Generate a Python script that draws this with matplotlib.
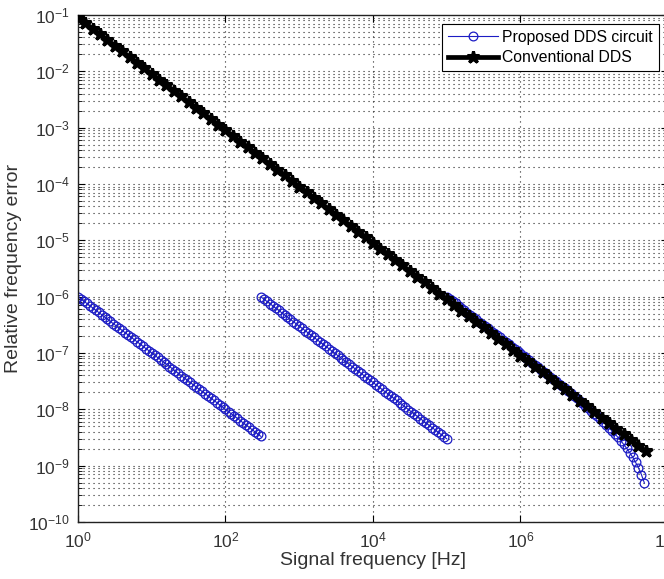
import matplotlib
matplotlib.use('Agg')
import matplotlib.pyplot as plt
from matplotlib import font_manager
from matplotlib.ticker import LogLocator, NullFormatter, FixedLocator, LogFormatterMathtext

# --- data ---
# proposed DDS circuit, first branch
seg1_freq = [1.0, 1.1, 1.2, 1.32, 1.45, 1.58, 1.74, 1.91, 2.09, 2.29, 2.51, 2.75, 3.02,
             3.31, 3.63, 3.98, 4.37, 4.79, 5.25, 5.75, 6.31, 6.92, 7.59, 8.32, 9.12,
             10.0, 11.0, 12.0, 13.2, 14.5, 15.8, 17.4, 19.1, 20.9, 22.9, 25.1, 27.5, 30.2,
             33.1, 36.3, 39.8, 43.7, 47.9, 52.5, 57.5, 63.1, 69.2, 75.9, 83.2, 91.2,
             100, 110, 120, 132, 145, 158, 174, 191, 209, 229, 251, 275, 302]
seg1_err = [1.0e-6, 9.12e-7, 8.32e-7, 7.59e-7, 6.92e-7, 6.31e-7, 5.75e-7, 5.25e-7, 4.79e-7,
            4.37e-7, 3.98e-7, 3.63e-7, 3.31e-7, 3.02e-7, 2.75e-7, 2.51e-7, 2.29e-7, 2.09e-7,
            1.91e-7, 1.74e-7, 1.58e-7, 1.45e-7, 1.32e-7, 1.20e-7, 1.10e-7,
            1.0e-7, 9.12e-8, 8.32e-8, 7.59e-8, 6.92e-8, 6.31e-8, 5.75e-8, 5.25e-8, 4.79e-8,
            4.37e-8, 3.98e-8, 3.63e-8, 3.31e-8, 3.02e-8, 2.75e-8, 2.51e-8, 2.29e-8, 2.09e-8,
            1.91e-8, 1.74e-8, 1.58e-8, 1.45e-8, 1.32e-8, 1.20e-8, 1.10e-8,
            1.0e-8, 9.12e-9, 8.32e-9, 7.59e-9, 6.92e-9, 6.31e-9, 5.75e-9, 5.25e-9, 4.79e-9,
            4.37e-9, 3.98e-9, 3.63e-9, 3.31e-9]

# second branch
seg2_freq = [302, 331, 363, 398, 437, 479, 525, 575, 631, 692, 759, 832, 912,
             1000, 1100, 1200, 1320, 1450, 1580, 1740, 1910, 2090, 2290, 2510, 2750, 3020,
             3310, 3630, 3980, 4370, 4790, 5250, 5750, 6310, 6920, 7590, 8320, 9120,
             1.0e4, 1.1e4, 1.2e4, 1.32e4, 1.45e4, 1.58e4, 1.74e4, 1.91e4, 2.09e4, 2.29e4,
             2.51e4, 2.75e4, 3.02e4, 3.31e4, 3.63e4, 3.98e4, 4.37e4, 4.79e4, 5.25e4, 5.75e4,
             6.31e4, 6.92e4, 7.59e4, 8.32e4, 9.12e4, 1.0e5]
seg2_err = [9.93e-7, 9.06e-7, 8.26e-7, 7.54e-7, 6.86e-7, 6.26e-7, 5.71e-7, 5.22e-7, 4.75e-7,
            4.34e-7, 3.95e-7, 3.61e-7, 3.29e-7,
            3.0e-7, 2.73e-7, 2.50e-7, 2.27e-7, 2.07e-7, 1.90e-7, 1.72e-7, 1.57e-7, 1.44e-7,
            1.31e-7, 1.20e-7, 1.09e-7, 9.93e-8, 9.06e-8, 8.26e-8, 7.54e-8, 6.86e-8, 6.26e-8,
            5.71e-8, 5.22e-8, 4.75e-8, 4.34e-8, 3.95e-8, 3.61e-8, 3.29e-8,
            3.0e-8, 2.73e-8, 2.50e-8, 2.27e-8, 2.07e-8, 1.90e-8, 1.72e-8, 1.57e-8, 1.44e-8,
            1.31e-8, 1.20e-8, 1.09e-8, 9.93e-9, 9.06e-9, 8.26e-9, 7.54e-9, 6.86e-9, 6.26e-9,
            5.71e-9, 5.22e-9, 4.75e-9, 4.34e-9, 3.95e-9, 3.61e-9, 3.29e-9, 3.0e-9]

# third branch (merges with the conventional curve, then drops off)
seg3_freq = [1.0e5, 1.1e5, 1.2e5, 1.32e5, 1.45e5, 1.58e5, 1.74e5, 1.91e5, 2.09e5, 2.29e5,
             2.51e5, 2.75e5, 3.02e5, 3.31e5, 3.63e5, 3.98e5, 4.37e5, 4.79e5, 5.25e5, 5.75e5,
             6.31e5, 6.92e5, 7.59e5, 8.32e5, 9.12e5,
             1.0e6, 1.1e6, 1.2e6, 1.32e6, 1.45e6, 1.58e6, 1.74e6, 1.91e6, 2.09e6, 2.29e6,
             2.51e6, 2.75e6, 3.02e6, 3.31e6, 3.63e6, 3.98e6, 4.37e6, 4.79e6, 5.25e6, 5.75e6,
             6.31e6, 6.92e6, 7.59e6, 8.32e6, 9.12e6,
             1.0e7, 1.1e7, 1.2e7, 1.32e7, 1.45e7, 1.58e7, 1.74e7, 1.91e7, 2.09e7, 2.29e7,
             2.51e7, 2.75e7, 3.02e7, 3.31e7, 3.63e7, 3.98e7, 4.37e7, 4.79e7]
seg3_err = [9.98e-7, 9.10e-7, 8.30e-7, 7.57e-7, 6.90e-7, 6.29e-7, 5.73e-7, 5.23e-7, 4.77e-7,
            4.35e-7, 3.96e-7, 3.61e-7, 3.29e-7, 3.00e-7, 2.73e-7, 2.49e-7, 2.27e-7, 2.07e-7,
            1.89e-7, 1.72e-7, 1.56e-7, 1.43e-7, 1.30e-7, 1.18e-7, 1.08e-7,
            9.84e-8, 8.96e-8, 8.16e-8, 7.43e-8, 6.76e-8, 6.15e-8, 5.59e-8, 5.09e-8, 4.63e-8,
            4.21e-8, 3.82e-8, 3.47e-8, 3.15e-8, 2.86e-8, 2.59e-8, 2.35e-8, 2.13e-8, 1.93e-8,
            1.75e-8, 1.58e-8, 1.42e-8, 1.29e-8, 1.16e-8, 1.04e-8, 9.4e-9,
            8.4e-9, 7.52e-9, 6.72e-9, 5.99e-9, 5.32e-9, 4.71e-9, 4.15e-9, 3.65e-9, 3.19e-9,
            2.77e-9, 2.38e-9, 2.03e-9, 1.71e-9, 1.42e-9, 1.15e-9, 9.1e-10, 6.9e-10, 4.9e-10]

# conventional DDS
conv_freq = [1.0, 1.26, 1.58, 2.0, 2.51, 3.16, 3.98, 5.01, 6.31, 7.94,
             10.0, 12.6, 15.8, 20.0, 25.1, 31.6, 39.8, 50.1, 63.1, 79.4,
             100, 126, 158, 200, 251, 316, 398, 501, 631, 794,
             1.0e3, 1.26e3, 1.58e3, 2.0e3, 2.51e3, 3.16e3, 3.98e3, 5.01e3, 6.31e3, 7.94e3,
             1.0e4, 1.26e4, 1.58e4, 2.0e4, 2.51e4, 3.16e4, 3.98e4, 5.01e4, 6.31e4, 7.94e4,
             1.0e5, 1.26e5, 1.58e5, 2.0e5, 2.51e5, 3.16e5, 3.98e5, 5.01e5, 6.31e5, 7.94e5,
             1.0e6, 1.26e6, 1.58e6, 2.0e6, 2.51e6, 3.16e6, 3.98e6, 5.01e6, 6.31e6, 7.94e6,
             1.0e7, 1.26e7, 1.58e7, 2.0e7, 2.51e7, 3.16e7, 3.98e7, 5.01e7]
conv_err = [9.0e-2, 7.15e-2, 5.68e-2, 4.51e-2, 3.58e-2, 2.85e-2, 2.26e-2, 1.80e-2, 1.43e-2, 1.13e-2,
            9.0e-3, 7.15e-3, 5.68e-3, 4.51e-3, 3.58e-3, 2.85e-3, 2.26e-3, 1.80e-3, 1.43e-3, 1.13e-3,
            9.0e-4, 7.15e-4, 5.68e-4, 4.51e-4, 3.58e-4, 2.85e-4, 2.26e-4, 1.80e-4, 1.43e-4, 1.13e-4,
            9.0e-5, 7.15e-5, 5.68e-5, 4.51e-5, 3.58e-5, 2.85e-5, 2.26e-5, 1.80e-5, 1.43e-5, 1.13e-5,
            9.0e-6, 7.15e-6, 5.68e-6, 4.51e-6, 3.58e-6, 2.85e-6, 2.26e-6, 1.80e-6, 1.43e-6, 1.13e-6,
            9.0e-7, 7.15e-7, 5.68e-7, 4.51e-7, 3.58e-7, 2.85e-7, 2.26e-7, 1.80e-7, 1.43e-7, 1.13e-7,
            9.0e-8, 7.15e-8, 5.68e-8, 4.51e-8, 3.58e-8, 2.85e-8, 2.26e-8, 1.80e-8, 1.43e-8, 1.13e-8,
            9.0e-9, 7.15e-9, 5.68e-9, 4.51e-9, 3.58e-9, 2.85e-9, 2.26e-9, 1.80e-9]

x_ticks = [1e0, 1e2, 1e4, 1e6, 1e8]

# --- fonts ---
names = {f.name for f in font_manager.fontManager.ttflist}
font = 'Liberation Sans Narrow' if 'Liberation Sans Narrow' in names else 'Liberation Sans'
narrow = font.endswith('Narrow')
plt.rcParams['font.family'] = [font, 'DejaVu Sans']
plt.rcParams['mathtext.fontset'] = 'custom'
plt.rcParams['mathtext.rm'] = font
plt.rcParams['mathtext.it'] = font
plt.rcParams['mathtext.bf'] = font

label_fs = 16 if narrow else 14
legend_fs = 13 if narrow else 11.3
tick_fs = 13 if narrow else 12.5

fig = plt.figure(figsize=(6.64, 5.79), dpi=100)
# axes run slightly past the right edge, like the cropped original
ax = fig.add_axes([78 / 664, 57 / 579, 590 / 664, 507 / 579])

blue = '#1c1cc4'
kw = dict(color=blue, marker='o', mfc='none', mec=blue, ms=6.3, mew=0.9, lw=0.8)
ax.plot(seg1_freq, seg1_err, label='Proposed DDS circuit', **kw)
ax.plot(seg2_freq, seg2_err, **kw)
ax.plot(seg3_freq, seg3_err, **kw)
ax.plot(conv_freq, conv_err, color='k', lw=3.4, marker='*', ms=9, mew=2.2,
        label='Conventional DDS', zorder=3)

ax.set_xscale('log')
ax.set_yscale('log')
ax.set_xlim(1, 1e8)
ax.set_ylim(1e-10, 1e-1)

ax.xaxis.set_major_locator(FixedLocator(x_ticks))
ax.xaxis.set_major_formatter(LogFormatterMathtext())
ax.xaxis.set_minor_locator(FixedLocator([]))
ax.yaxis.set_major_locator(LogLocator(base=10, numticks=20))
ax.yaxis.set_major_formatter(LogFormatterMathtext())
ax.yaxis.set_minor_locator(LogLocator(base=10, subs=range(2, 10), numticks=20))
ax.yaxis.set_minor_formatter(NullFormatter())

dots = (0, (1, 3.5))
ax.grid(True, which='major', axis='both', ls=dots, color='#222222', lw=0.8)
ax.grid(True, which='minor', axis='y', ls=dots, color='#222222', lw=0.8)
ax.set_axisbelow(True)

ax.tick_params(which='both', direction='in', top=True, right=True, labelsize=tick_fs,
               colors='k', labelcolor='#333333')
ax.tick_params(which='major', length=5, width=0.8, pad=6)
ax.tick_params(which='minor', length=3, width=0.6)
for s in ax.spines.values():
    s.set_linewidth(1.0)
    s.set_color('#222222')

ax.set_xlabel('Signal frequency [Hz]', fontsize=label_fs, color='#333333', labelpad=1)
ax.set_ylabel('Relative frequency error', fontsize=label_fs, color='#333333')
ax.yaxis.set_label_coords(-0.095, 0.5)

leg = ax.legend(loc='upper right', fontsize=legend_fs, frameon=True, fancybox=False,
                edgecolor='k', framealpha=1, borderpad=0.35, handlelength=3.2,
                handletextpad=0.3, labelspacing=0.35, borderaxespad=0.6)
leg.get_frame().set_linewidth(0.8)

fig.savefig('out.png', dpi=100)
